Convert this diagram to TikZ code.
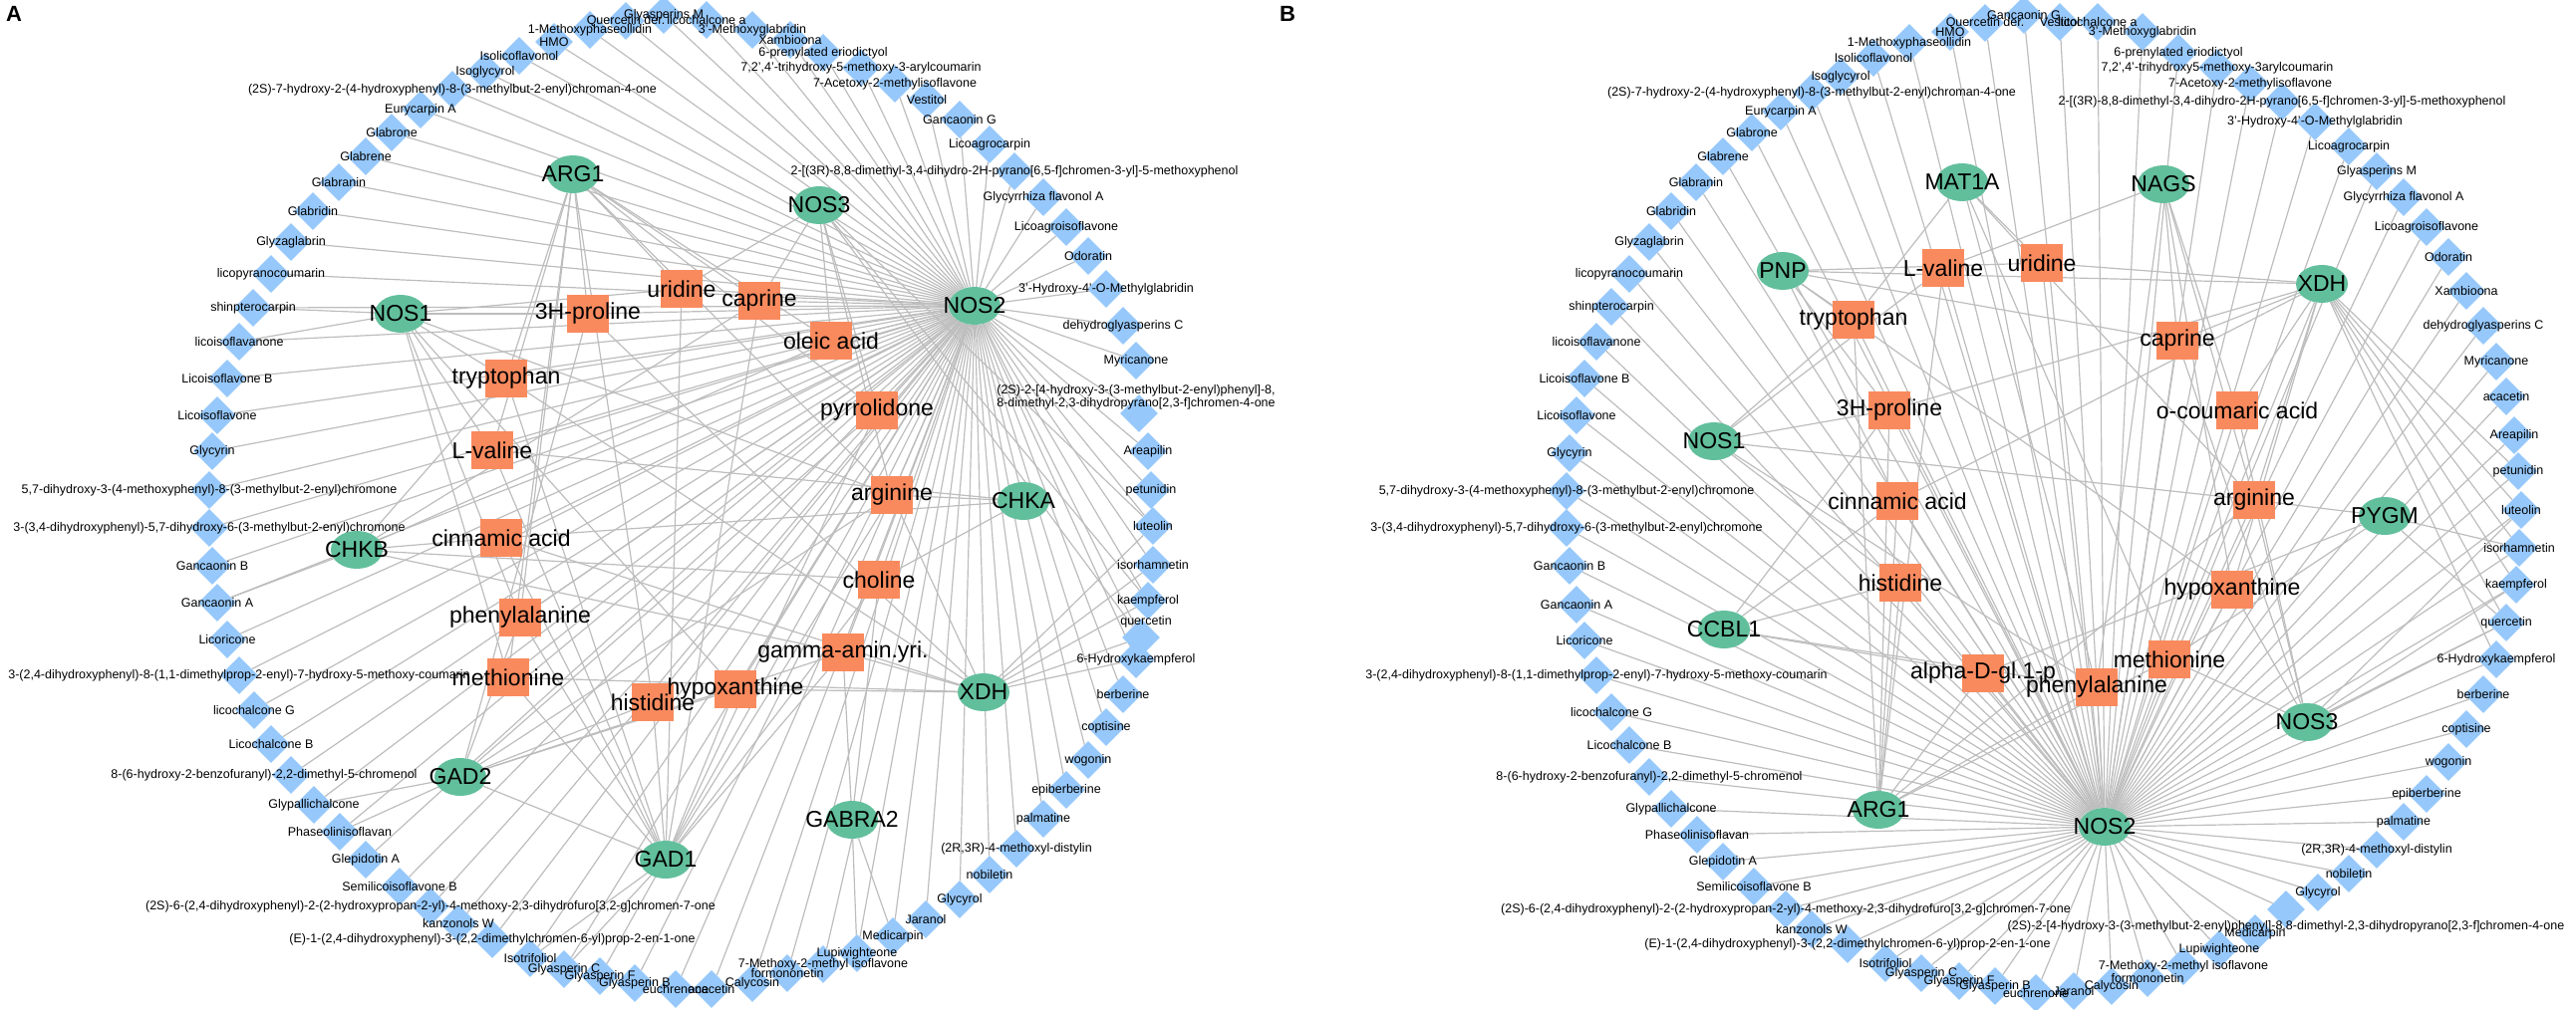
\documentclass[tikz,border=0pt]{standalone}
\usepackage{fontspec}
\setmainfont{Liberation Sans}
\usetikzlibrary{shapes.geometric}
\definecolor{diablue}{HTML}{96C8FB}
\definecolor{protgreen}{HTML}{62BF9C}
\definecolor{metorange}{HTML}{F98A5E}
\definecolor{edgegrey}{HTML}{BDBDBD}
\pgfdeclarelayer{bg}\pgfdeclarelayer{fg}\pgfdeclarelayer{top}
\pgfsetlayers{bg,main,fg,top}
\tikzset{
 dia/.style={diamond, fill=diablue, draw=none, minimum width=38pt, minimum height=38pt, inner sep=0pt},
 dlab/.style={font=\fontsize{12.5}{13.5}\selectfont, inner sep=0pt, align=center},
 prot/.style={ellipse, fill=protgreen, draw=none, minimum width=52pt, minimum height=38pt, inner sep=0pt},
 met/.style={rectangle, fill=metorange, draw=none, minimum width=42pt, minimum height=38pt, inner sep=0pt},
 big/.style={font=\fontsize{23}{25}\selectfont, inner sep=0pt},
 edge/.style={draw=edgegrey, line width=1.2pt},
 panel/.style={font=\fontsize{22}{24}\selectfont\bfseries, inner sep=0pt, anchor=north west}
}
\newcommand{\DiaN}[4]{\node[dia] (#1) at (#2,#3) {};\begin{pgfonlayer}{fg}\node[dlab] at (#2,#3) {#4};\end{pgfonlayer}}
\newcommand{\DiaL}[6]{\node[dia] (#1) at (#2,#3) {};\begin{pgfonlayer}{fg}\node[dlab] at (#4,#5) {#6};\end{pgfonlayer}}
\newcommand{\ProtN}[4]{\begin{pgfonlayer}{top}\node[prot] (#1) at (#2,#3) {};\node[big] at (#2,#3) {#4};\end{pgfonlayer}}
\newcommand{\MetN}[4]{\begin{pgfonlayer}{top}\node[met] (#1) at (#2,#3) {};\node[big] at (#2,#3) {#4};\end{pgfonlayer}}
\begin{document}
\begin{tikzpicture}[x=1pt,y=-1pt]
\useasboundingbox (0,0) rectangle (2585,1014);
\node[panel] (pA) at (6,6) {A};
\node[panel] (pB) at (1284,6) {B};
% ---------------- Panel A ring ----------------
\DiaN{a1}{666}{15}{Glyasperins M}
\DiaN{a2}{709}{20}{licochalcone a}
\DiaN{a3}{755}{30}{3'-Methoxyglabridin}
\DiaN{a4}{793}{40}{Xambioona}
\DiaN{a5}{826}{53}{6-prenylated eriodictyol}
\DiaN{a6}{864}{68}{7,2',4'-trihydroxy-5-methoxy-3-arylcoumarin}
\DiaN{a7}{898}{84}{7-Acetoxy-2-methylisoflavone}
\DiaN{a8}{930}{100}{Vestitol}
\DiaN{a9}{963}{120}{Gancaonin G}
\DiaN{a10}{993}{145}{Licoagrocarpin}
\DiaN{a11}{1018}{172}{2-[(3R)-8,8-dimethyl-3,4-dihydro-2H-pyrano[6,5-f]chromen-3-yl]-5-methoxyphenol}
\DiaN{a12}{1047}{198}{Glycyrrhiza flavonol A}
\DiaN{a13}{1070}{228}{Licoagroisoflavone}
\DiaN{a14}{1092}{257}{Odoratin}
\DiaN{a15}{1110}{290}{3'-Hydroxy-4'-O-Methylglabridin}
\DiaN{a16}{1127}{327}{dehydroglyasperins C}
\DiaN{a17}{1140}{362}{Myricanone}
\DiaL{a18}{1143}{415}{1140}{399}{(2S)-2-[4-hydroxy-3-(3-methylbut-2-enyl)phenyl]-8,\\8-dimethyl-2,3-dihydropyrano[2,3-f]chromen-4-one}
\DiaN{a19}{1152}{453}{Areapilin}
\DiaN{a20}{1155}{492}{petunidin}
\DiaN{a21}{1157}{528}{luteolin}
\DiaN{a22}{1157}{567}{isorhamnetin}
\DiaN{a23}{1152}{603}{kaempferol}
\DiaL{a24}{1145}{640}{1150}{624}{quercetin}
\DiaN{a25}{1140}{662}{6-Hydroxykaempferol}
\DiaN{a26}{1127}{697}{berberine}
\DiaN{a27}{1110}{730}{coptisine}
\DiaN{a28}{1092}{763}{wogonin}
\DiaN{a29}{1070}{793}{epiberberine}
\DiaN{a30}{1047}{822}{palmatine}
\DiaN{a31}{1020}{852}{(2R,3R)-4-methoxyl-distylin}
\DiaN{a32}{993}{878}{nobiletin}
\DiaN{a33}{963}{903}{Glycyrol}
\DiaN{a34}{929}{923}{Jaranol}
\DiaN{a35}{896}{940}{Medicarpin}
\DiaN{a36}{860}{957}{Lupiwighteone}
\DiaN{a37}{826}{968}{7-Methoxy-2-methyl isoflavone}
\DiaN{a38}{790}{977}{formononetin}
\DiaN{a39}{755}{987}{Calycosin}
\DiaN{a40}{714}{993}{acacetin}
\DiaN{a41}{678}{993}{euchrenone}
\DiaN{a42}{637}{987}{Glyasperin B}
\DiaN{a43}{602}{980}{Glyasperin F}
\DiaN{a44}{566}{973}{Glyasperin C}
\DiaN{a45}{532}{962}{Isotrifoliol}
\DiaN{a46}{494}{943}{(E)-1-(2,4-dihydroxyphenyl)-3-(2,2-dimethylchromen-6-yl)prop-2-en-1-one}
\DiaN{a47}{460}{927}{kanzonols W}
\DiaN{a48}{432}{910}{(2S)-6-(2,4-dihydroxyphenyl)-2-(2-hydroxypropan-2-yl)-4-methoxy-2,3-dihydrofuro[3,2-g]chromen-7-one}
\DiaN{a49}{401}{890}{Semilicoisoflavone B}
\DiaN{a50}{367}{863}{Glepidotin A}
\DiaN{a51}{341}{835}{Phaseolinisoflavan}
\DiaN{a52}{315}{808}{Glypallichalcone}
\DiaL{a53}{292}{778}{265}{778}{8-(6-hydroxy-2-benzofuranyl)-2,2-dimethyl-5-chromenol}
\DiaN{a54}{272}{747}{Licochalcone B}
\DiaN{a55}{255}{713}{licochalcone G}
\DiaN{a56}{240}{678}{3-(2,4-dihydroxyphenyl)-8-(1,1-dimethylprop-2-enyl)-7-hydroxy-5-methoxy-coumarin}
\DiaN{a57}{228}{642}{Licoricone}
\DiaN{a58}{218}{605}{Gancaonin A}
\DiaN{a59}{213}{568}{Gancaonin B}
\DiaN{a60}{210}{530}{3-(3,4-dihydroxyphenyl)-5,7-dihydroxy-6-(3-methylbut-2-enyl)chromone}
\DiaN{a61}{210}{492}{5,7-dihydroxy-3-(4-methoxyphenyl)-8-(3-methylbut-2-enyl)chromone}
\DiaN{a62}{213}{453}{Glycyrin}
\DiaN{a63}{218}{417}{Licoisoflavone}
\DiaN{a64}{228}{380}{Licoisoflavone B}
\DiaN{a65}{240}{343}{licoisoflavanone}
\DiaN{a66}{254}{309}{shinpterocarpin}
\DiaN{a67}{272}{275}{licopyranocoumarin}
\DiaN{a68}{292}{243}{Glyzaglabrin}
\DiaN{a69}{314}{212}{Glabridin}
\DiaN{a70}{340}{183}{Glabranin}
\DiaN{a71}{367}{157}{Glabrene}
\DiaN{a72}{393}{133}{Glabrone}
\DiaN{a73}{422}{110}{Eurycarpin A}
\DiaN{a74}{454}{90}{(2S)-7-hydroxy-2-(4-hydroxyphenyl)-8-(3-methylbut-2-enyl)chroman-4-one}
\DiaN{a75}{487}{72}{Isoglycyrol}
\DiaN{a76}{521}{56}{Isolicoflavonol}
\DiaN{a77}{556}{42}{HMO}
\DiaN{a78}{592}{30}{1-Methoxyphaseollidin}
\DiaN{a79}{628}{21}{Quercetin der.}
% ---------------- Panel A interior ----------------
\ProtN{aARG1}{575}{175}{ARG1}
\ProtN{aNOS3}{822}{206}{NOS3}
\ProtN{aNOS1}{402}{315}{NOS1}
\ProtN{aNOS2}{978}{307}{NOS2}
\ProtN{aCHKA}{1027}{503}{CHKA}
\ProtN{aXDH}{987}{695}{XDH}
\ProtN{aCHKB}{358}{552}{CHKB}
\ProtN{aGAD2}{462}{780}{GAD2}
\ProtN{aGAD1}{668}{863}{GAD1}
\ProtN{aGABRA2}{855}{823}{GABRA2}
\MetN{aUri}{684}{290}{uridine}
\MetN{aCap}{762}{302}{caprine}
\MetN{aPro}{590}{315}{3H-proline}
\MetN{aOle}{834}{342}{oleic acid}
\MetN{aTrp}{508}{380}{tryptophan}
\MetN{aPyr}{880}{412}{pyrrolidone}
\MetN{aLval}{494}{452}{L-valine}
\MetN{aArg}{895}{497}{arginine}
\MetN{aCin}{503}{540}{cinnamic acid}
\MetN{aCho}{882}{582}{choline}
\MetN{aPhe}{522}{620}{phenylalanine}
\MetN{aGam}{846}{655}{gamma-amin.yri.}
\MetN{aMet}{510}{680}{methionine}
\MetN{aHis}{655}{705}{histidine}
\MetN{aHyp}{738}{692}{hypoxanthine}
% ---------------- Panel B ring ----------------
\DiaN{b1}{2031}{15}{Gancaonin G}
\DiaN{b2}{2067}{22}{Vestitol}
\DiaN{b3}{2105}{22}{licochalcone a}
\DiaN{b4}{2150}{32}{3'-Methoxyglabridin}
\DiaN{b5}{2186}{53}{6-prenylated eriodictyol}
\DiaN{b6}{2225}{68}{7,2',4'-trihydroxy5-methoxy-3arylcoumarin}
\DiaN{b7}{2258}{84}{7-Acetoxy-2-methylisoflavone}
\DiaN{b8}{2290}{102}{2-[(3R)-8,8-dimethyl-3,4-dihydro-2H-pyrano[6,5-f]chromen-3-yl]-5-methoxyphenol}
\DiaN{b9}{2323}{122}{3'-Hydroxy-4'-O-Methylglabridin}
\DiaN{b10}{2357}{147}{Licoagrocarpin}
\DiaN{b11}{2385}{172}{Glyasperins M}
\DiaN{b12}{2412}{198}{Glycyrrhiza flavonol A}
\DiaN{b13}{2435}{228}{Licoagroisoflavone}
\DiaN{b14}{2457}{258}{Odoratin}
\DiaN{b15}{2475}{292}{Xambioona}
\DiaN{b16}{2492}{327}{dehydroglyasperins C}
\DiaN{b17}{2505}{363}{Myricanone}
\DiaN{b18}{2515}{398}{acacetin}
\DiaN{b19}{2523}{437}{Areapilin}
\DiaN{b20}{2527}{473}{petunidin}
\DiaN{b21}{2530}{512}{luteolin}
\DiaN{b22}{2528}{550}{isorhamnetin}
\DiaN{b23}{2525}{587}{kaempferol}
\DiaN{b24}{2515}{625}{quercetin}
\DiaN{b25}{2505}{662}{6-Hydroxykaempferol}
\DiaN{b26}{2492}{697}{berberine}
\DiaN{b27}{2475}{732}{coptisine}
\DiaN{b28}{2457}{765}{wogonin}
\DiaN{b29}{2435}{797}{epiberberine}
\DiaN{b30}{2412}{825}{palmatine}
\DiaN{b31}{2385}{853}{(2R,3R)-4-methoxyl-distylin}
\DiaN{b32}{2357}{877}{nobiletin}
\DiaN{b33}{2326}{896}{Glycyrol}
\DiaL{b34}{2294}{913}{2294}{930}{(2S)-2-[4-hydroxy-3-(3-methylbut-2-enyl)phenyl]-8,8-dimethyl-2,3-dihydropyrano[2,3-f]chromen-4-one}
\DiaN{b35}{2263}{937}{Medicarpin}
\DiaN{b36}{2227}{953}{Lupiwighteone}
\DiaN{b37}{2191}{970}{7-Methoxy-2-methyl isoflavone}
\DiaN{b38}{2155}{982}{formononetin}
\DiaN{b39}{2119}{990}{Calycosin}
\DiaN{b40}{2081}{995}{Jaranol}
\DiaN{b41}{2043}{997}{euchrenone}
\DiaN{b42}{2002}{990}{Glyasperin B}
\DiaN{b43}{1966}{985}{Glyasperin F}
\DiaN{b44}{1928}{977}{Glyasperin C}
\DiaN{b45}{1892}{967}{Isotrifoliol}
\DiaN{b46}{1854}{948}{(E)-1-(2,4-dihydroxyphenyl)-3-(2,2-dimethylchromen-6-yl)prop-2-en-1-one}
\DiaN{b47}{1818}{933}{kanzonols W}
\DiaN{b48}{1792}{913}{(2S)-6-(2,4-dihydroxyphenyl)-2-(2-hydroxypropan-2-yl)-4-methoxy-2,3-dihydrofuro[3,2-g]chromen-7-one}
\DiaN{b49}{1760}{890}{Semilicoisoflavone B}
\DiaN{b50}{1729}{865}{Glepidotin A}
\DiaN{b51}{1703}{838}{Phaseolinisoflavan}
\DiaN{b52}{1677}{812}{Glypallichalcone}
\DiaN{b53}{1655}{780}{8-(6-hydroxy-2-benzofuranyl)-2,2-dimethyl-5-chromenol}
\DiaN{b54}{1635}{748}{Licochalcone B}
\DiaN{b55}{1617}{715}{licochalcone G}
\DiaN{b56}{1602}{678}{3-(2,4-dihydroxyphenyl)-8-(1,1-dimethylprop-2-enyl)-7-hydroxy-5-methoxy-coumarin}
\DiaN{b57}{1590}{643}{Licoricone}
\DiaN{b58}{1582}{607}{Gancaonin A}
\DiaN{b59}{1575}{568}{Gancaonin B}
\DiaN{b60}{1572}{530}{3-(3,4-dihydroxyphenyl)-5,7-dihydroxy-6-(3-methylbut-2-enyl)chromone}
\DiaN{b61}{1572}{493}{5,7-dihydroxy-3-(4-methoxyphenyl)-8-(3-methylbut-2-enyl)chromone}
\DiaN{b62}{1575}{455}{Glycyrin}
\DiaN{b63}{1582}{417}{Licoisoflavone}
\DiaN{b64}{1590}{380}{Licoisoflavone B}
\DiaN{b65}{1602}{343}{licoisoflavanone}
\DiaN{b66}{1617}{308}{shinpterocarpin}
\DiaN{b67}{1635}{275}{licopyranocoumarin}
\DiaN{b68}{1655}{243}{Glyzaglabrin}
\DiaN{b69}{1677}{212}{Glabridin}
\DiaN{b70}{1702}{183}{Glabranin}
\DiaN{b71}{1729}{157}{Glabrene}
\DiaN{b72}{1758}{133}{Glabrone}
\DiaN{b73}{1787}{112}{Eurycarpin A}
\DiaN{b74}{1818}{93}{(2S)-7-hydroxy-2-(4-hydroxyphenyl)-8-(3-methylbut-2-enyl)chroman-4-one}
\DiaN{b75}{1847}{77}{Isoglycyrol}
\DiaN{b76}{1880}{58}{Isolicoflavonol}
\DiaN{b77}{1916}{43}{1-Methoxyphaseollidin}
\DiaN{b78}{1957}{32}{HMO}
\DiaN{b79}{1992}{23}{Quercetin der.}
% ---------------- Panel B interior ----------------
\ProtN{bMAT1A}{1969}{183}{MAT1A}
\ProtN{bNAGS}{2171}{185}{NAGS}
\ProtN{bPNP}{1789}{272}{PNP}
\ProtN{bXDH}{2330}{285}{XDH}
\ProtN{bNOS1}{1720}{443}{NOS1}
\ProtN{bPYGM}{2393}{518}{PYGM}
\ProtN{bCCBL1}{1730}{632}{CCBL1}
\ProtN{bNOS3}{2315}{725}{NOS3}
\ProtN{bARG1}{1885}{813}{ARG1}
\ProtN{bNOS2}{2112}{830}{NOS2}
\MetN{bLval}{1950}{269}{L-valine}
\MetN{bUri}{2049}{264}{uridine}
\MetN{bCap}{2185}{342}{caprine}
\MetN{bTrp}{1860}{321}{tryptophan}
\MetN{bOcou}{2245}{412}{o-coumaric acid}
\MetN{bPro}{1896}{412}{3H-proline}
\MetN{bArg}{2262}{502}{arginine}
\MetN{bCin}{1904}{503}{cinnamic acid}
\MetN{bHyp}{2240}{592}{hypoxanthine}
\MetN{bHis}{1907}{585}{histidine}
\MetN{bMet}{2177}{662}{methionine}
\MetN{bAgl}{1990}{676}{alpha-D-gl.1-p}
\MetN{bPhe}{2104}{690}{phenylalanine}
% ---------------- Edges ----------------
\begin{pgfonlayer}{bg}
\foreach \i in {1,...,79} {\draw[edge] (aNOS2) -- (a\i); \draw[edge] (bNOS2) -- (b\i);}
\foreach \u/\v in {
 aXDH/a21,aXDH/a22,aXDH/a23,aXDH/a24,aXDH/a25,aNOS3/a21,aNOS3/a23,aNOS3/a24,
 aNOS1/a66,aNOS1/a65,aCHKB/a58,aGAD2/a52,aGAD2/a51,aGABRA2/a35,aGABRA2/a36,aGAD1/a44,aGAD1/a45,
 aGAD2/aGAD1,
 aUri/aNOS2,aUri/aARG1,aUri/aGAD1,aUri/aNOS3,aUri/aNOS1,
 aCap/aNOS2,aCap/aARG1,aCap/aNOS3,aCap/aGAD1,aCap/aCHKB,
 aPro/aNOS1,aPro/aNOS2,aPro/aARG1,aPro/aGAD2,aPro/aXDH,
 aOle/aNOS2,aOle/aNOS3,aOle/aARG1,aOle/aCHKB,
 aTrp/aNOS1,aTrp/aNOS2,aTrp/aGAD1,aTrp/aARG1,aTrp/aCHKB,aTrp/aXDH,
 aPyr/aNOS2,aPyr/aNOS3,aPyr/aARG1,aPyr/aGAD1,aPyr/aGAD2,
 aLval/aNOS1,aLval/aNOS2,aLval/aGAD1,aLval/aARG1,aLval/aCHKA,
 aArg/aNOS1,aArg/aNOS2,aArg/aNOS3,aArg/aARG1,aArg/aGAD1,aArg/aXDH,aArg/aCHKA,aArg/aGAD2,
 aCin/aCHKB,aCin/aNOS2,aCin/aXDH,aCin/aGAD1,aCin/aCHKA,
 aCho/aCHKA,aCho/aCHKB,aCho/aNOS2,aCho/aGAD1,aCho/aGABRA2,
 aPhe/aNOS1,aPhe/aNOS2,aPhe/aGAD1,aPhe/aGAD2,aPhe/aARG1,
 aGam/aGAD1,aGam/aGAD2,aGam/aGABRA2,aGam/aNOS2,aGam/aXDH,aGam/aCHKB,
 aMet/aNOS1,aMet/aNOS2,aMet/aGAD1,aMet/aARG1,aMet/aXDH,
 aHis/aGAD1,aHis/aNOS2,aHis/aARG1,aHis/aGAD2,
 aHyp/aXDH,aHyp/aNOS2,aHyp/aGAD1,aHyp/aGAD2,aHyp/aNOS1,
 bXDH/b21,bXDH/b22,bXDH/b23,bXDH/b24,bXDH/b25,bXDH/b20,bPYGM/b22,bPYGM/b24,bNOS3/b21,bNOS3/b23,bNOS3/b24,
 bPNP/bXDH,bPro/bXDH,
 bLval/bNOS1,bLval/bNOS2,bLval/bARG1,bLval/bNAGS,
 bUri/bPNP,bUri/bNOS2,bUri/bXDH,bUri/bMAT1A,
 bCap/bNOS2,bCap/bXDH,bCap/bNAGS,bCap/bPNP,bCap/bNOS3,
 bTrp/bNOS1,bTrp/bNOS2,bTrp/bARG1,bTrp/bPNP,bTrp/bMAT1A,
 bOcou/bXDH,bOcou/bNOS2,bOcou/bNOS3,bOcou/bNAGS,
 bPro/bNOS1,bPro/bNOS2,bPro/bARG1,bPro/bCCBL1,bPro/bPNP,
 bArg/bNOS1,bArg/bNOS2,bArg/bNOS3,bArg/bARG1,bArg/bNAGS,bArg/bXDH,bArg/bPYGM,bArg/bMAT1A,
 bCin/bNOS2,bCin/bXDH,bCin/bCCBL1,bCin/bARG1,bCin/bPNP,
 bHyp/bXDH,bHyp/bPNP,bHyp/bNOS2,bHyp/bNOS3,bHyp/bNAGS,
 bHis/bNOS2,bHis/bCCBL1,bHis/bARG1,bHis/bNOS1,
 bMet/bMAT1A,bMet/bNOS2,bMet/bNOS3,bMet/bARG1,bMet/bPYGM,bMet/bXDH,
 bAgl/bPYGM,bAgl/bNOS2,bAgl/bARG1,bAgl/bCCBL1,
 bPhe/bNOS2,bPhe/bARG1,bPhe/bCCBL1,bPhe/bNOS1,bPhe/bMAT1A,bPhe/bNAGS}
 {\draw[edge] (\u) -- (\v);}
\end{pgfonlayer}
\end{tikzpicture}
\end{document}
